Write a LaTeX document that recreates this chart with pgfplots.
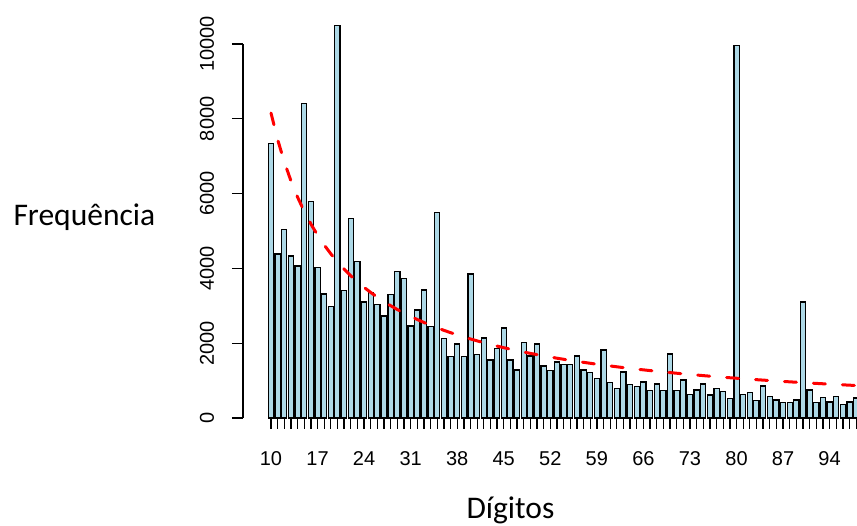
\documentclass[border=0pt]{standalone}
\usepackage{pgfplots}
\pgfplotsset{compat=1.18}
\usepackage{fontspec}
\setmainfont{Liberation Sans}
\newfontfamily\carlito{Carlito}
\definecolor{lightblue}{RGB}{173,216,230}
\begin{document}
\begin{tikzpicture}
\begin{axis}[
  at={(243pt,108pt)}, anchor=south west,
  scale only axis, width=614pt, height=374pt,
  xmin=5.79, xmax=98.12, ymin=0, ymax=10000,
  clip=false,
  axis lines*=left,
  x axis line style={draw=none},
  y axis line style={line width=1.3pt},
  tick align=outside,
  xtick={10,17,...,94}, minor xtick={10,...,98},
  ytick={0,2000,...,10000},
  scaled y ticks=false,
  major tick length=11pt, minor tick length=11pt,
  every tick/.style={black, line width=1.3pt},
  /pgf/number format/assume math mode=true,
  /pgf/number format/1000 sep={},
  ticklabel style={font=\fontsize{20}{24}\selectfont},
  xticklabel style={anchor=base, yshift=-37pt},
  yticklabel style={xshift=-18pt, rotate=90, anchor=base},
  xlabel={Dígitos},
  ylabel={Frequência},
  xlabel style={at={(axis description cs:0.3583,-0.2674)}, anchor=base west, font=\carlito\fontsize{31.5}{36}\selectfont},
  ylabel style={rotate=-90, at={(axis description cs:-0.3795,0.5134)}, anchor=base west, font=\carlito\fontsize{31.5}{36}\selectfont},
]
\addplot[ybar, bar width=5.2pt, fill=lightblue, draw=black, line width=1.2pt] coordinates {
(10,7330) (11,4385) (12,5030) (13,4330) (14,4064) (15,8400) (16,5784) (17,4020) (18,3316) (19,2977)
(20,10490) (21,3414) (22,5339) (23,4175) (24,3100) (25,3345) (26,3045) (27,2727) (28,3310) (29,3908)
(30,3740) (31,2460) (32,2888) (33,3422) (34,2450) (35,5505) (36,2135) (37,1650) (38,1979) (39,1645)
(40,3850) (41,1700) (42,2140) (43,1551) (44,1863) (45,2405) (46,1551) (47,1283) (48,2024) (49,1658)
(50,1979) (51,1390) (52,1275) (53,1495) (54,1440) (55,1440) (56,1658) (57,1283) (58,1225) (59,1065)
(60,1818) (61,958) (62,794) (63,1230) (64,905) (65,846) (66,960) (67,740) (68,909) (69,740)
(70,1711) (71,740) (72,1016) (73,620) (74,749) (75,909) (76,615) (77,798) (78,700) (79,526)
(80,9955) (81,630) (82,690) (83,470) (84,856) (85,580) (86,481) (87,410) (88,410) (89,481)
(90,3100) (91,749) (92,410) (93,540) (94,428) (95,580) (96,360) (97,428) (98,535)
};
\addplot[red, mark=none, line width=3pt, dash pattern=on 12pt off 17pt, line cap=round] coordinates {
(10,8154) (11,7444) (12,6848) (13,6340) (14,5903) (15,5522) (16,5187) (17,4890) (18,4626) (19,4388)
(20,4174) (21,3980) (22,3803) (23,3641) (24,3493) (25,3356) (26,3229) (27,3111) (28,3002) (29,2900)
(30,2805) (31,2716) (32,2633) (33,2554) (34,2480) (35,2410) (36,2344) (37,2282) (38,2222) (39,2166)
(40,2113) (41,2062) (42,2013) (43,1967) (44,1923) (45,1880) (46,1840) (47,1801) (48,1764) (49,1728)
(50,1694) (51,1661) (52,1630) (53,1599) (54,1570) (55,1542) (56,1514) (57,1488) (58,1463) (59,1438)
(60,1414) (61,1391) (62,1369) (63,1347) (64,1326) (65,1306) (66,1287) (67,1268) (68,1249) (69,1231)
(70,1214) (71,1197) (72,1180) (73,1164) (74,1149) (75,1133) (76,1118) (77,1104) (78,1090) (79,1076)
(80,1063) (81,1050) (82,1037) (83,1025) (84,1013) (85,1001) (86,989) (87,978) (88,967) (89,956)
(90,945) (91,935) (92,925) (93,915) (94,905) (95,896) (96,887) (97,877) (98,869) (99,860)
};
\end{axis}
\pgfresetboundingbox
\path[use as bounding box] (0pt,0pt) rectangle (857pt,526pt);
\end{tikzpicture}
\end{document}
